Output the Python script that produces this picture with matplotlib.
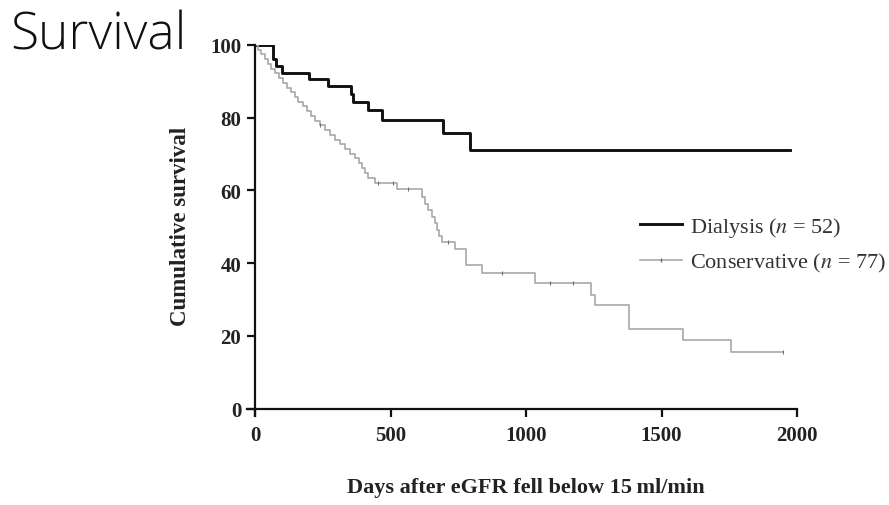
import matplotlib
matplotlib.use("Agg")
import matplotlib.pyplot as plt
from matplotlib.lines import Line2D

# Kaplan-Meier step data (days, % surviving)
dial_days = [0, 67, 77, 101, 200, 268, 354, 363, 416, 467, 693, 793, 1975]
dial_surv = [100, 96.1, 94.2, 92.3, 90.6, 88.6, 86.5, 84.4, 82.1, 79.4, 75.7, 71.1, 71.1]

cons_days = [0, 10, 22, 35, 48, 60, 75, 90, 104, 118, 132, 146, 160, 175, 190,
             205, 222, 240, 258, 277, 296, 314, 333, 351, 368, 382, 395, 405,
             418, 443, 523, 615, 628, 640, 652, 664, 672, 680, 689, 738, 779,
             836, 1033, 1240, 1255, 1381, 1578, 1755, 1950]
cons_surv = [100, 98.7, 97.4, 96.1, 94.8, 93.5, 92.2, 90.9, 89.6, 88.3, 87.0,
             85.7, 84.4, 83.1, 81.8, 80.5, 79.2, 77.9, 76.6, 75.3, 74.0, 72.7,
             71.4, 70.1, 68.8, 67.5, 66.2, 64.9, 63.4, 62.0, 60.4, 58.2, 56.4,
             54.6, 52.8, 51.0, 49.2, 47.4, 45.8, 44.0, 39.6, 37.3, 34.7, 31.3,
             28.4, 22.0, 18.8, 15.6, 15.6]
cons_censored = [240, 455, 509, 565, 712, 910, 1089, 1175, 1950]

xticks = [0, 500, 1000, 1500, 2000]
yticks = [0, 20, 40, 60, 80, 100]

plt.rcParams["mathtext.fontset"] = "stix"

fig = plt.figure(figsize=(8.89, 5.06), dpi=100)
ax = fig.add_axes([0.2778, 0.1759, 0.6187, 0.7332])

ax.step(dial_days, dial_surv, where="post", color="#111111", lw=2.1)
ax.step(cons_days, cons_surv, where="post", color="#a8a8a8", lw=1.2)

# censor marks on the conservative curve
cens_y = []
for d in cons_censored:
    v = cons_surv[0]
    for t, s in zip(cons_days, cons_surv):
        if t <= d:
            v = s
    cens_y.append(v)
ax.plot(cons_censored, cens_y, ls="none", marker="|", ms=3, mew=0.8, color="#707070")

ax.set_xlim(-30, 2000)
ax.set_ylim(-2, 100)
ax.spines["left"].set_position(("data", 0))
ax.spines["bottom"].set_position(("data", 0))
ax.spines["top"].set_visible(False)
ax.spines["right"].set_visible(False)
for s in ["left", "bottom"]:
    ax.spines[s].set_linewidth(1.6)
    ax.spines[s].set_color("#111111")

ax.set_xticks(xticks)
ax.set_yticks(yticks)
ax.tick_params(direction="out", length=6, width=1.6, color="#111111", pad=4)
ax.tick_params(axis="x", pad=6)
for lab in ax.get_xticklabels() + ax.get_yticklabels():
    lab.set_fontfamily("Liberation Serif")
    lab.set_fontweight("bold")
    lab.set_fontsize(15)
    lab.set_color("#222222")

fig.text(0.203, 0.553, "Cumulative survival", rotation=90, ha="center", va="center",
         fontsize=16.5, fontweight="bold", family="Liberation Serif", color="#222222")
fig.text(0.591, 0.036, "Days after eGFR fell below 15\u2009ml/min", ha="center", va="center",
         fontsize=16, fontweight="bold", family=["Liberation Serif", "DejaVu Serif"], color="#222222")

fig.text(0.012, 0.903, "Survival", fontsize=37, family="Open Sans", fontweight="light",
         color="#111111", ha="left", va="baseline")

handles = [
    Line2D([], [], color="#111111", lw=2.1),
    Line2D([], [], color="#a8a8a8", lw=1.2, marker="|", ms=3, markevery=[1],
           markeredgecolor="#707070"),
]
leg = fig.legend(handles, [r"Dialysis ($n$ = 52)", r"Conservative ($n$ = 77)"],
                 loc="upper left", bbox_to_anchor=(0.72, 0.573), frameon=False,
                 borderpad=0, borderaxespad=0,
                 handlelength=1.9, handletextpad=0.36, labelspacing=0.55,
                 prop={"family": "Liberation Serif", "size": 16})
for t in leg.get_texts():
    t.set_color("#333333")

fig.savefig("out.png", dpi=100)
